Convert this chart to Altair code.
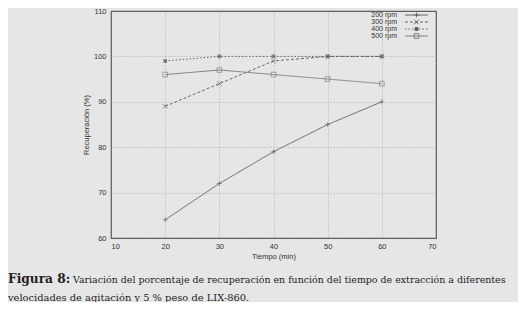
import altair as alt
import pandas as pd

# ---- data ----
times = [20, 30, 40, 50, 60]
series_names = ["200 rpm", "300 rpm", "400 rpm", "500 rpm"]
rpm200 = [64, 72, 79, 85, 90]
rpm300 = [89, 94, 99, 100, 100]
rpm400 = [99, 100, 100, 100, 100]
rpm500 = [96, 97, 96, 95, 94]
x_ticks = [10, 20, 30, 40, 50, 60, 70]
y_ticks = [60, 70, 80, 90, 100, 110]

caption_bold = "Figura 8:"
caption_l1 = "Variación del porcentaje de recuperación en función del tiempo de extracción a diferentes"
caption_l2 = "velocidades de agitación y 5 % peso de LIX-860."

rows = []
for name, vals in zip(series_names, [rpm200, rpm300, rpm400, rpm500]):
    for t, v in zip(times, vals):
        rows.append({"serie": name, "t": t, "r": v})
df = pd.DataFrame(rows)

# ---- styles ----
BG = "#e6e6e6"
LINE = "#5a5a5a"
TXT = "#333333"
plus_path = "M-1,0L1,0M0,-1L0,1"
x_path = "M-1,-1L1,1M-1,1L1,-1"
dash_map = {"200 rpm": [1, 0], "300 rpm": [3, 2], "400 rpm": [1.5, 2], "500 rpm": [1, 0]}
color_map = {"200 rpm": LINE, "300 rpm": LINE, "400 rpm": LINE, "500 rpm": "#777777"}
shape_map = {"200 rpm": plus_path, "300 rpm": x_path, "400 rpm": "square", "500 rpm": "square"}

W, H = 325, 227
TOP = 3

xs = alt.Scale(domain=[10, 70], nice=False, zero=False)
ys = alt.Scale(domain=[60, 110], nice=False, zero=False)
font = "Liberation Sans"
serif = "DejaVu Serif"

x_enc = alt.X("t:Q", scale=xs, title="Tiempo (min)",
              axis=alt.Axis(values=x_ticks, grid=True, gridDash=[1, 2], gridColor="#8a8a8a",
                            gridWidth=0.6, domain=False, ticks=False, labelPadding=4,
                            labelFontSize=7.5, labelFont=font, labelColor=TXT,
                            titleFont=font, titleFontSize=7.5, titleFontWeight="normal",
                            titleColor=TXT, titlePadding=3))
y_enc = alt.Y("r:Q", scale=ys, title="Recuperación (%)",
              axis=alt.Axis(values=y_ticks, grid=True, gridDash=[1, 2], gridColor="#8a8a8a",
                            gridWidth=0.6, domain=False, ticks=False, labelPadding=5,
                            labelFontSize=7.5, labelFont=font, labelColor=TXT,
                            titleFont=font, titleFontSize=7.5, titleFontWeight="normal",
                            titleColor=TXT, titlePadding=3))

color_enc = alt.Color("serie:N", legend=None,
                      scale=alt.Scale(domain=series_names, range=[color_map[s] for s in series_names]))
dash_enc = alt.StrokeDash("serie:N", legend=None,
                          scale=alt.Scale(domain=series_names, range=[dash_map[s] for s in series_names]))
shape_enc = alt.Shape("serie:N", legend=None,
                      scale=alt.Scale(domain=series_names, range=[shape_map[s] for s in series_names]))

base = alt.Chart(df)
lines = base.mark_line(strokeWidth=0.9).encode(x=x_enc, y=y_enc, color=color_enc, strokeDash=dash_enc)
pts_open = base.transform_filter(alt.datum.serie != "400 rpm").mark_point(
    filled=False, size=22, strokeWidth=0.9).encode(x="t:Q", y="r:Q", color=color_enc, shape=shape_enc)
pts_fill = base.transform_filter(alt.datum.serie == "400 rpm").mark_point(
    filled=True, size=14, shape="square").encode(x="t:Q", y="r:Q", color=color_enc)

# ---- gnuplot-style key (top right, inside plot) ----
key_layers = []
for i, name in enumerate(series_names):
    yy = 6 - TOP + 1 + i * 7
    one = pd.DataFrame({"serie": [name]})
    kb = alt.Chart(one)
    key_layers.append(kb.mark_text(align="right", baseline="middle", font=font, fontSize=7).encode(
        x=alt.value(286), y=alt.value(yy), text="serie:N", color=alt.value(TXT)))
    key_layers.append(kb.mark_rule(strokeWidth=0.9, strokeDash=dash_map[name]).encode(
        x=alt.value(294), x2=alt.value(317), y=alt.value(yy), color=alt.value(color_map[name])))
    if name == "400 rpm":
        key_layers.append(kb.mark_point(filled=True, size=14, shape="square", opacity=1).encode(
            x=alt.value(305.5), y=alt.value(yy), color=alt.value(color_map[name])))
    else:
        key_layers.append(kb.mark_point(filled=False, size=22, strokeWidth=0.9, shape=shape_map[name],
                                        opacity=1).encode(
            x=alt.value(305.5), y=alt.value(yy), color=alt.value(color_map[name])))

# ---- caption ----
cap = pd.DataFrame({"a": [caption_bold], "b": [caption_l1], "c": [caption_l2]})
cb = alt.Chart(cap)
y1 = 283 - 8 - TOP
y2 = 301 - 8 - TOP
cap_layers = [
    cb.mark_text(align="left", baseline="alphabetic", font=serif, fontSize=12.2,
                 fontWeight="bold").encode(x=alt.value(-103), y=alt.value(y1), text="a:N",
                                           color=alt.value("#222222")),
    cb.mark_text(align="left", baseline="alphabetic", font=serif, fontSize=9.45).encode(
        x=alt.value(-38), y=alt.value(y1), text="b:N", color=alt.value("#222222")),
    cb.mark_text(align="left", baseline="alphabetic", font=serif, fontSize=9.9).encode(
        x=alt.value(-103), y=alt.value(y2), text="c:N", color=alt.value("#222222")),
]

chart = alt.layer(lines, pts_open, pts_fill, *key_layers, *cap_layers).properties(
    width=W, height=H,
    autosize=alt.AutoSizeParams(type="none"),
    padding={"left": 103, "top": TOP, "right": 82, "bottom": 294 - TOP - H},
    background=BG,
).configure_view(stroke="#555555", strokeWidth=1.2, fill=BG)

chart.save("out.html", embed_options={"renderer": "svg", "actions": False})
